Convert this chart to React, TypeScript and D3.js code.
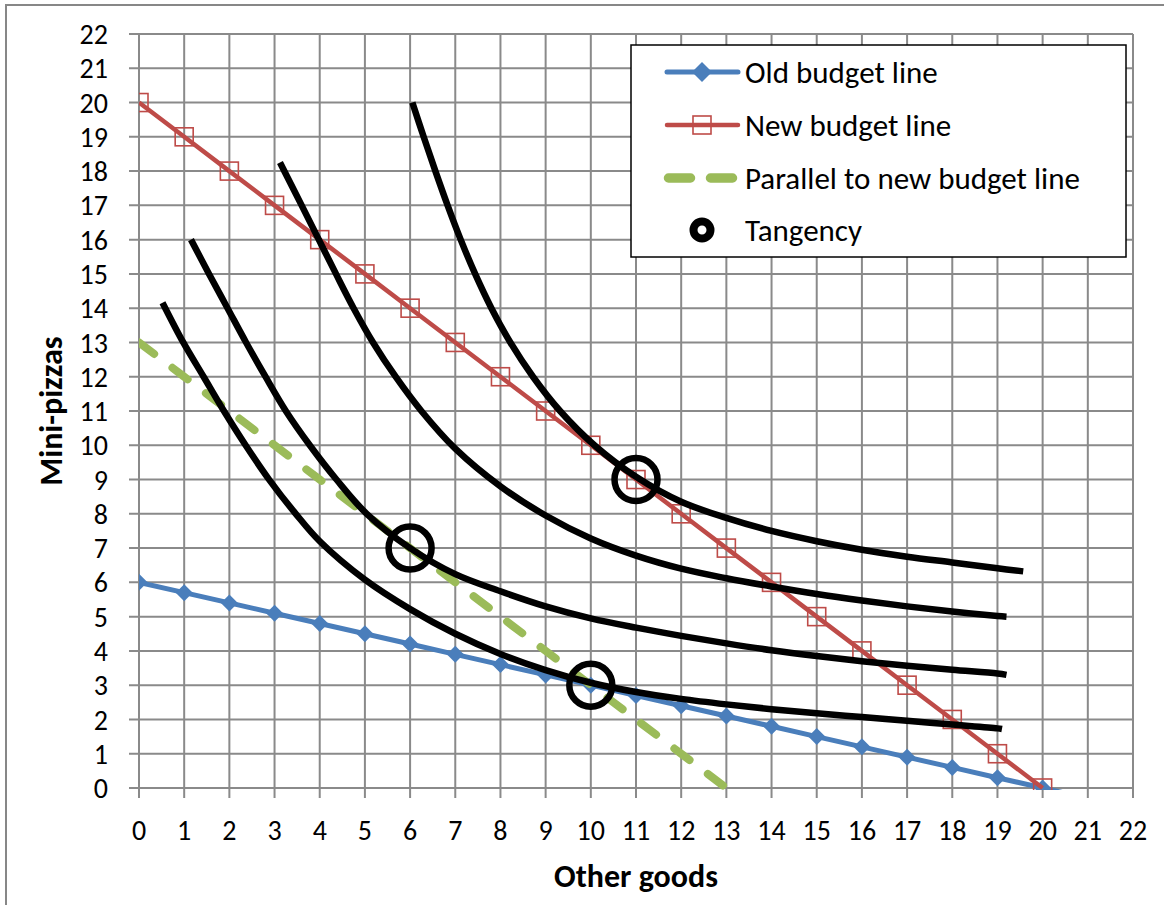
import React from "react";
import * as d3 from "d3";

// ---- data ----
const axisTicks = [0, 1, 2, 3, 4, 5, 6, 7, 8, 9, 10, 11, 12, 13, 14, 15, 16, 17, 18, 19, 20, 21, 22];

const oldBudgetX = [0, 1, 2, 3, 4, 5, 6, 7, 8, 9, 10, 11, 12, 13, 14, 15, 16, 17, 18, 19, 20, 21];
const oldBudgetY = [6, 5.7, 5.4, 5.1, 4.8, 4.5, 4.2, 3.9, 3.6, 3.3, 3, 2.7, 2.4, 2.1, 1.8, 1.5, 1.2, 0.9, 0.6, 0.3, 0, -0.3];

const newBudgetX = [0, 1, 2, 3, 4, 5, 6, 7, 8, 9, 10, 11, 12, 13, 14, 15, 16, 17, 18, 19, 20];
const newBudgetY = [20, 19, 18, 17, 16, 15, 14, 13, 12, 11, 10, 9, 8, 7, 6, 5, 4, 3, 2, 1, 0];

const parallelX = [0, 1, 2, 3, 4, 5, 6, 7, 8, 9, 10, 11, 12, 13];
const parallelY = [13, 12, 11, 10, 9, 8, 7, 6, 5, 4, 3, 2, 1, 0];

// indifference curves, lowest to highest, as [other goods, mini-pizzas]
const curve1: [number, number][] = [
  [0.52, 14.16], [0.98, 13], [1.43, 12], [1.88, 11], [2.36, 10], [2.88, 9], [3.47, 8], [4, 7.2],
  [5, 6.08], [6, 5.22], [7, 4.5], [8, 3.91], [9, 3.44], [10, 3.07], [11, 2.8], [12, 2.6],
  [13, 2.44], [14, 2.3], [15, 2.18], [16, 2.07], [17, 1.96], [18, 1.85], [19, 1.74], [19.1, 1.72],
];
const curve2: [number, number][] = [
  [1.15, 16], [1.55, 15], [1.96, 14], [2.37, 13], [2.8, 12], [3.25, 11], [3.78, 10], [4.37, 9],
  [5.04, 8], [6, 7], [7, 6.24], [8, 5.74], [9, 5.3], [10, 4.95], [11, 4.68], [12, 4.44],
  [13, 4.22], [14, 4.02], [15, 3.85], [16, 3.7], [17, 3.57], [18, 3.45], [19, 3.34], [19.2, 3.3],
];
const curve3: [number, number][] = [
  [3.12, 18.25], [3.6, 17], [3.98, 16], [4.36, 15], [4.75, 14], [5.18, 13], [5.68, 12], [6.25, 11],
  [7, 9.9], [8, 8.8], [9, 7.95], [10, 7.28], [11, 6.78], [12, 6.4], [13, 6.12], [14, 5.88],
  [15, 5.66], [16, 5.47], [17, 5.3], [18, 5.15], [19, 5.02], [19.2, 5.0],
];
const curve4: [number, number][] = [
  [6.05, 20], [6.3, 19], [6.56, 18], [6.83, 17], [7.12, 16], [7.44, 15], [7.8, 14], [8.22, 13],
  [8.72, 12], [9.32, 11], [10.08, 10], [11, 9.08], [12, 8.35], [13, 7.88], [14, 7.5], [15, 7.2],
  [16, 6.95], [17, 6.75], [18, 6.58], [19, 6.41], [19.57, 6.32],
];
const indifferenceCurves = [curve1, curve2, curve3, curve4];

const tangencyX = [10, 6, 11];
const tangencyY = [3, 7, 9];

const legendLabels = ["Old budget line", "New budget line", "Parallel to new budget line", "Tangency"];

// ---- styling ----
const BLUE = "#4A7EBB";
const RED = "#BE4B48";
const GREEN = "#9BBB59";
const GRID = "#8a8a8a";
const FONT = "Carlito, Lato, 'Open Sans', sans-serif";

const W = 1164;
const H = 905;

export default function App() {
  const x = d3.scaleLinear().domain([0, 22]).range([139, 1133]);
  const y = d3.scaleLinear().domain([0, 22]).range([788, 34]);

  const straight = d3
    .line<[number, number]>()
    .x((d) => x(d[0]))
    .y((d) => y(d[1]));
  const smooth = d3
    .line<[number, number]>()
    .x((d) => x(d[0]))
    .y((d) => y(d[1]))
    .curve(d3.curveCatmullRom.alpha(0.5));

  const oldPts = oldBudgetX.map((v, i) => [v, oldBudgetY[i]] as [number, number]);
  const newPts = newBudgetX.map((v, i) => [v, newBudgetY[i]] as [number, number]);
  const parPts = parallelX.map((v, i) => [v, parallelY[i]] as [number, number]);

  const diamond = (cx: number, cy: number, r: number) =>
    `M${cx},${cy - r}L${cx + r},${cy}L${cx},${cy + r}L${cx - r},${cy}Z`;

  const [x0, x1] = x.range();
  const [yb, yt] = y.range();

  const legendRows = [72, 125, 178, 230];

  return (
    <svg
      width={W}
      height={H}
      style={{ position: "absolute", left: 0, top: 0, background: "#fff" }}
      fontFamily={FONT}
    >
      <defs>
        <clipPath id="plotClip">
          <rect x={x0} y={yt} width={x1 - x0} height={yb - yt + 2} />
        </clipPath>
      </defs>
      {/* chart frame */}
      <rect x={6} y={5} width={W + 20} height={H + 20} fill="#fff" stroke="#878787" strokeWidth={2} />

      {/* gridlines + ticks */}
      <g stroke={GRID} strokeWidth={2}>
        {axisTicks.map((t) => (
          <line key={"v" + t} x1={x(t)} x2={x(t)} y1={yt} y2={yb + 10} />
        ))}
        {axisTicks.map((t) => (
          <line key={"h" + t} x1={x0 - 10} x2={x1} y1={y(t)} y2={y(t)} />
        ))}
      </g>

      {/* tick labels */}
      <g fontSize={28} fill="#000">
        {axisTicks.map((t) => (
          <text key={"yl" + t} x={108} y={y(t)} dy="0.36em" textAnchor="end">
            {t}
          </text>
        ))}
        {axisTicks.map((t) => (
          <text key={"xl" + t} x={x(t)} y={840} textAnchor="middle">
            {t}
          </text>
        ))}
      </g>

      {/* axis titles */}
      <text x={636} y={887} textAnchor="middle" fontSize={32} fontWeight="bold">
        Other goods
      </text>
      <text
        transform="translate(62,411) rotate(-90)"
        textAnchor="middle"
        fontSize={32}
        fontWeight="bold"
      >
        Mini-pizzas
      </text>

      <g clipPath="url(#plotClip)">
        {/* old budget line */}
        <path d={straight(oldPts) || ""} fill="none" stroke={BLUE} strokeWidth={5} strokeLinejoin="round" />
        {oldPts.map((p, i) => (
          <path key={"d" + i} d={diamond(x(p[0]), y(p[1]), 8.5)} fill={BLUE} />
        ))}

        {/* new budget line */}
        <path d={straight(newPts) || ""} fill="none" stroke={RED} strokeWidth={4.5} strokeLinejoin="round" />
        {newPts.map((p, i) => (
          <rect
            key={"s" + i}
            x={x(p[0]) - 9}
            y={y(p[1]) - 9}
            width={18}
            height={18}
            fill="none"
            stroke={RED}
            strokeWidth={1.6}
          />
        ))}

        {/* parallel to the new budget line */}
        <path
          d={straight(parPts) || ""}
          fill="none"
          stroke={GREEN}
          strokeWidth={8}
          strokeLinecap="round"
          strokeDasharray="19 23"
        />

        {/* indifference curves */}
        {indifferenceCurves.map((c, i) => (
          <path key={"ic" + i} d={smooth(c) || ""} fill="none" stroke="#000" strokeWidth={6.5} />
        ))}

        {/* tangency points */}
        {tangencyX.map((tx, i) => (
          <circle key={"t" + i} cx={x(tx)} cy={y(tangencyY[i])} r={21.5} fill="none" stroke="#000" strokeWidth={6.5} />
        ))}
      </g>

      {/* legend */}
      <g>
        <rect x={631} y={45} width={495} height={212} fill="#fff" stroke="#000" strokeWidth={1.5} />
        <line x1={667} x2={738} y1={legendRows[0]} y2={legendRows[0]} stroke={BLUE} strokeWidth={5} strokeLinecap="round" />
        <path d={diamond(702, legendRows[0], 10)} fill={BLUE} />
        <line x1={667} x2={738} y1={legendRows[1]} y2={legendRows[1]} stroke={RED} strokeWidth={4.5} strokeLinecap="round" />
        <rect x={693} y={legendRows[1] - 9} width={18} height={18} fill="none" stroke={RED} strokeWidth={1.6} />
        <line
          x1={668.5}
          x2={738}
          y1={legendRows[2]}
          y2={legendRows[2]}
          stroke={GREEN}
          strokeWidth={9.5}
          strokeLinecap="round"
          strokeDasharray="22 20"
        />
        <circle cx={702} cy={legendRows[3]} r={8.5} fill="none" stroke="#000" strokeWidth={8} />
        <g fontSize={31} fill="#000">
          {legendLabels.map((l, i) => (
            <text key={l} x={745} y={legendRows[i]} dy="0.36em">
              {l}
            </text>
          ))}
        </g>
      </g>
    </svg>
  );
}
